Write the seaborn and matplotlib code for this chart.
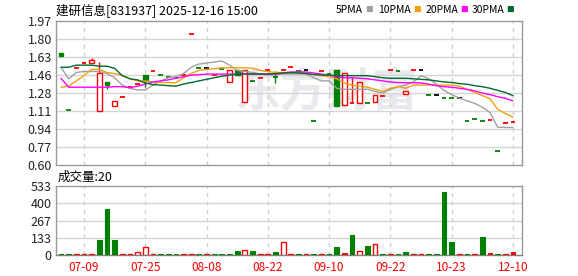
import numpy as np
import matplotlib
matplotlib.use("Agg")
import matplotlib.pyplot as plt
import seaborn as sns

# ---------------- data ----------------
tick_idx = [3, 11, 19, 27, 35, 43, 51, 59]
tick_labels = ['07-09', '07-25', '08-08', '08-22', '09-10', '09-22', '10-23', '12-10']

opens = [1.67, 1.12, 1.52, 1.57, 1.57, 1.11, 1.39, 1.16, 1.25, 1.34,
         1.37, 1.46, 1.49, 1.46, 1.44, 1.43, 1.46, 1.85, 1.52, 1.52,
         1.46, 1.51, 1.39, 1.50, 1.20, 1.40, 1.43, 1.50, 1.44, 1.50,
         1.53, 1.49, 1.50, 1.02, 1.49, 1.47, 1.50, 1.17, 1.19, 1.19,
         1.19, 1.20, 1.26, 1.50, 1.49, 1.28, 1.50, 1.50, 1.27, 1.27,
         1.24, 1.235, 1.235, 1.02, 1.04, 1.02, 1.03, 0.73, 1.00, 1.01]
highs = [1.67, 1.12, 1.52, 1.57, 1.62, 1.58, 1.39, 1.21, 1.25, 1.34,
         1.37, 1.46, 1.49, 1.46, 1.44, 1.43, 1.46, 1.85, 1.52, 1.52,
         1.46, 1.51, 1.50, 1.50, 1.50, 1.40, 1.43, 1.50, 1.49, 1.50,
         1.53, 1.49, 1.50, 1.02, 1.49, 1.47, 1.50, 1.48, 1.44, 1.39,
         1.19, 1.27, 1.26, 1.50, 1.49, 1.30, 1.50, 1.50, 1.27, 1.27,
         1.24, 1.235, 1.235, 1.02, 1.04, 1.02, 1.03, 0.73, 1.00, 1.01]
lows = [1.64, 1.12, 1.52, 1.57, 1.57, 1.11, 1.32, 1.16, 1.25, 1.34,
        1.37, 1.34, 1.49, 1.46, 1.44, 1.43, 1.46, 1.85, 1.52, 1.52,
        1.46, 1.51, 1.39, 1.46, 1.20, 1.40, 1.43, 1.50, 1.38, 1.50,
        1.53, 1.49, 1.50, 1.02, 1.49, 1.47, 1.16, 1.17, 1.19, 1.19,
        1.19, 1.20, 1.26, 1.50, 1.49, 1.28, 1.50, 1.50, 1.27, 1.27,
        1.24, 1.235, 1.235, 1.02, 1.04, 1.02, 1.03, 0.73, 1.00, 1.01]
closes = [1.64, 1.12, 1.52, 1.57, 1.60, 1.48, 1.36, 1.21, 1.25, 1.34,
          1.37, 1.41, 1.49, 1.46, 1.44, 1.43, 1.46, 1.85, 1.52, 1.52,
          1.46, 1.51, 1.50, 1.46, 1.50, 1.40, 1.43, 1.50, 1.44, 1.50,
          1.53, 1.49, 1.50, 1.02, 1.49, 1.47, 1.16, 1.48, 1.19, 1.39,
          1.19, 1.27, 1.26, 1.50, 1.49, 1.30, 1.50, 1.50, 1.27, 1.27,
          1.24, 1.235, 1.235, 1.02, 1.04, 1.02, 1.03, 0.73, 1.00, 1.01]
# colour of each candle: r = up, g = down, k = unchanged
candle_dir = ['g', 'g', 'r', 'r', 'r', 'r', 'g', 'r', 'r', 'r',
              'r', 'g', 'r', 'g', 'g', 'g', 'r', 'r', 'g', 'k',
              'r', 'g', 'r', 'g', 'r', 'g', 'r', 'r', 'g', 'r',
              'r', 'g', 'k', 'g', 'r', 'g', 'g', 'r', 'r', 'r',
              'g', 'r', 'r', 'r', 'g', 'r', 'r', 'k', 'g', 'k',
              'g', 'g', 'k', 'g', 'g', 'g', 'r', 'g', 'r', 'r']

ma5 = [1.53, 1.42, 1.48, 1.49, 1.49, 1.49, 1.47, 1.43, 1.36, 1.33,
       1.314, 1.314, 1.36, 1.40, 1.43, 1.44, 1.47, 1.53, 1.56, 1.57,
       1.58, 1.59, 1.55, 1.50, 1.49, 1.48, 1.466, 1.456, 1.46, 1.466,
       1.466, 1.466, 1.466, 1.43, 1.40, 1.40, 1.33, 1.32, 1.32, 1.32,
       1.32, 1.30, 1.283, 1.32, 1.345, 1.36, 1.39, 1.45, 1.42, 1.37,
       1.31, 1.27, 1.236, 1.21, 1.187, 1.15, 1.10, 0.96, 0.957, 0.957]
ma10 = [1.34, 1.35, 1.40, 1.45, 1.51, 1.51, 1.48, 1.47, 1.455, 1.42,
        1.40, 1.40, 1.39, 1.385, 1.383, 1.383, 1.43, 1.47, 1.50, 1.51,
        1.515, 1.525, 1.525, 1.525, 1.525, 1.52, 1.50, 1.49, 1.48, 1.48,
        1.48, 1.48, 1.47, 1.465, 1.45, 1.44, 1.42, 1.38, 1.36, 1.35,
        1.34, 1.32, 1.30, 1.33, 1.345, 1.33, 1.36, 1.36, 1.36, 1.36,
        1.36, 1.36, 1.35, 1.32, 1.29, 1.26, 1.23, 1.13, 1.09, 1.055]
ma20 = [1.425, 1.34, 1.34, 1.34, 1.34, 1.34, 1.34, 1.345, 1.345, 1.335,
        1.35, 1.37, 1.39, 1.40, 1.41, 1.425, 1.44, 1.455, 1.46, 1.465,
        1.465, 1.465, 1.465, 1.465, 1.465, 1.465, 1.465, 1.465, 1.465, 1.475,
        1.485, 1.485, 1.485, 1.475, 1.465, 1.455, 1.44, 1.43, 1.43, 1.425,
        1.42, 1.41, 1.40, 1.39, 1.385, 1.383, 1.383, 1.38, 1.37, 1.355,
        1.345, 1.34, 1.33, 1.32, 1.305, 1.285, 1.27, 1.25, 1.235, 1.21]
ma30 = [1.53, 1.53, 1.55, 1.55, 1.55, 1.54, 1.54, 1.52, 1.45, 1.42,
        1.41, 1.38, 1.365, 1.36, 1.355, 1.35, 1.37, 1.385, 1.40, 1.415,
        1.43, 1.445, 1.455, 1.465, 1.466, 1.466, 1.466, 1.466, 1.47, 1.475,
        1.478, 1.475, 1.47, 1.46, 1.456, 1.455, 1.45, 1.45, 1.45, 1.45,
        1.45, 1.44, 1.43, 1.425, 1.425, 1.425, 1.42, 1.415, 1.41, 1.40,
        1.39, 1.385, 1.375, 1.368, 1.355, 1.345, 1.33, 1.31, 1.29, 1.26]

volume = [7, 7, 7, 7, 7, 118, 353, 118, 7, 7,
          21, 60, 7, 7, 7, 7, 7, 7, 7, 7,
          7, 7, 7, 31, 37, 31, 7, 7, 24, 99,
          7, 7, 7, 7, 7, 7, 63, 16, 157, 31,
          71, 84, 7, 7, 7, 24, 7, 7, 7, 7,
          490, 102, 7, 7, 7, 141, 16, 7, 7, 20]
# r = red hollow, f = red filled, g = green filled
vol_kind = ['g', 'g', 'r', 'r', 'r', 'g', 'g', 'g', 'r', 'r',
            'r', 'r', 'r', 'g', 'g', 'g', 'r', 'r', 'g', 'r',
            'g', 'g', 'g', 'g', 'r', 'g', 'r', 'r', 'g', 'r',
            'r', 'g', 'r', 'g', 'r', 'g', 'g', 'f', 'g', 'r',
            'g', 'r', 'g', 'r', 'g', 'g', 'r', 'r', 'g', 'g',
            'g', 'g', 'r', 'g', 'r', 'g', 'f', 'g', 'r', 'f']

price_ticks = ['0.60', '0.77', '0.94', '1.11', '1.28', '1.46', '1.63', '1.80', '1.97']
vol_ticks = ['0', '133', '267', '400', '533']

# ---------------- style ----------------
sns.set_style('white')
plt.rcParams['font.family'] = ['Noto Sans CJK SC', 'DejaVu Sans']

RED = '#ff0000'
GREEN = '#008000'
C_MA = {'5PMA': '#a0a0a0', '10PMA': '#f0a010', '20PMA': '#ff00ff', '30PMA': '#006a2e'}
GRID = '#d4d4d4'
EDGE = '#9a9a9a'
col_map = {'r': RED, 'g': GREEN, 'k': '#000000'}

W, H = 578, 276
fig = plt.figure(figsize=(W / 100, H / 100), dpi=100)
L, R = 56, 522
ax1 = fig.add_axes([L / W, 1 - 165 / H, (R - L) / W, (165 - 21) / H])
ax2 = fig.add_axes([L / W, 1 - 255 / H, (R - L) / W, (255 - 186) / H])

n = len(closes)
x = np.arange(n)
xlim = (-0.65, 60.18)

# watermark
ax1.text(0.58, 0.50, '东方财富', transform=ax1.transAxes, fontsize=33,
         fontweight='bold', color='#e8e8ee', ha='center', va='center', zorder=0)

for ax in (ax1, ax2):
    ax.set_xlim(*xlim)
    for s in ax.spines.values():
        s.set_color(EDGE)
        s.set_linewidth(1)
    ax.tick_params(length=0, pad=3, labelsize=9, colors='#222222')
    for ti in tick_idx:
        ax.axvline(ti, color='#cfcfcf', lw=1, ls=(0, (3, 3)), zorder=1)

# price panel
lo, hi = 0.60, 1.97
ax1.set_ylim(lo, hi)
pt = np.linspace(lo, hi, len(price_ticks))
ax1.set_yticks(pt)
ax1.set_yticklabels(price_ticks)
for v in pt[1:-1]:
    ax1.axhline(v, color=GRID, lw=1, zorder=1)
ax1.set_xticks([])

bw = 0.62
for i in range(n):
    o, h, l, c = opens[i], highs[i], lows[i], closes[i]
    col = col_map[candle_dir[i]]
    if h > max(o, c):
        ax1.vlines(i, max(o, c), h, color=col, lw=1, zorder=3)
    if l < min(o, c):
        ax1.vlines(i, l, min(o, c), color=col, lw=1, zorder=3)
    if c > o:
        ax1.bar(i, c - o, bottom=o, width=bw, facecolor='white', edgecolor=col, lw=1, zorder=3)
    elif c < o:
        ax1.bar(i, o - c, bottom=c, width=bw, facecolor=col, edgecolor=col, lw=1, zorder=3)
    else:
        ax1.hlines(c, i - bw / 2, i + bw / 2, color=col, lw=1.3, zorder=3)

for name, vals in (('5PMA', ma5), ('10PMA', ma10), ('20PMA', ma20), ('30PMA', ma30)):
    sns.lineplot(x=x, y=vals, ax=ax1, color=C_MA[name], lw=1, zorder=4, legend=False)

# volume panel
ax2.set_ylim(0, 533)
vt = np.linspace(0, 533, len(vol_ticks))
ax2.set_yticks(vt)
ax2.set_yticklabels(vol_ticks)
for v in vt[1:-1]:
    ax2.axhline(v, color=GRID, lw=1, zorder=1)
for i in range(n):
    k = vol_kind[i]
    if k == 'g':
        ax2.bar(i, volume[i], width=bw, facecolor=GREEN, edgecolor=GREEN, lw=0.8, zorder=3)
    elif k == 'f':
        ax2.bar(i, volume[i], width=bw, facecolor=RED, edgecolor=RED, lw=0.8, zorder=3)
    else:
        ax2.bar(i, volume[i], width=bw, facecolor='white', edgecolor=RED, lw=1, zorder=3)
ax2.set_xticks(tick_idx)
ax2.set_xticklabels(tick_labels, color=RED, fontsize=8.5)
ax2.tick_params(axis='x', pad=4, colors=RED)
ax2.spines['bottom'].set_color('#808080')

# texts
fig.text(L / W, 1 - 10 / H, '建研信息[831937] 2025-12-16 15:00', fontsize=9,
         va='center', ha='left', color='#000000')
fig.text(58 / W, 1 - 177 / H, '成交量:20', fontsize=9, va='center', ha='left', color='#000000')
legend_items = [('5PMA', 364), ('10PMA', 412), ('20PMA', 459), ('30PMA', 505)]
for name, sx in legend_items:
    fig.text((sx - 1) / W, 1 - 10 / H, name, fontsize=7.5, va='center', ha='right', color='#000000')
    fig.text((sx + 1) / W, 1 - 10 / H, '■', fontsize=5.5, va='center', ha='left', color=C_MA[name])

fig.savefig('out.png', dpi=100)
